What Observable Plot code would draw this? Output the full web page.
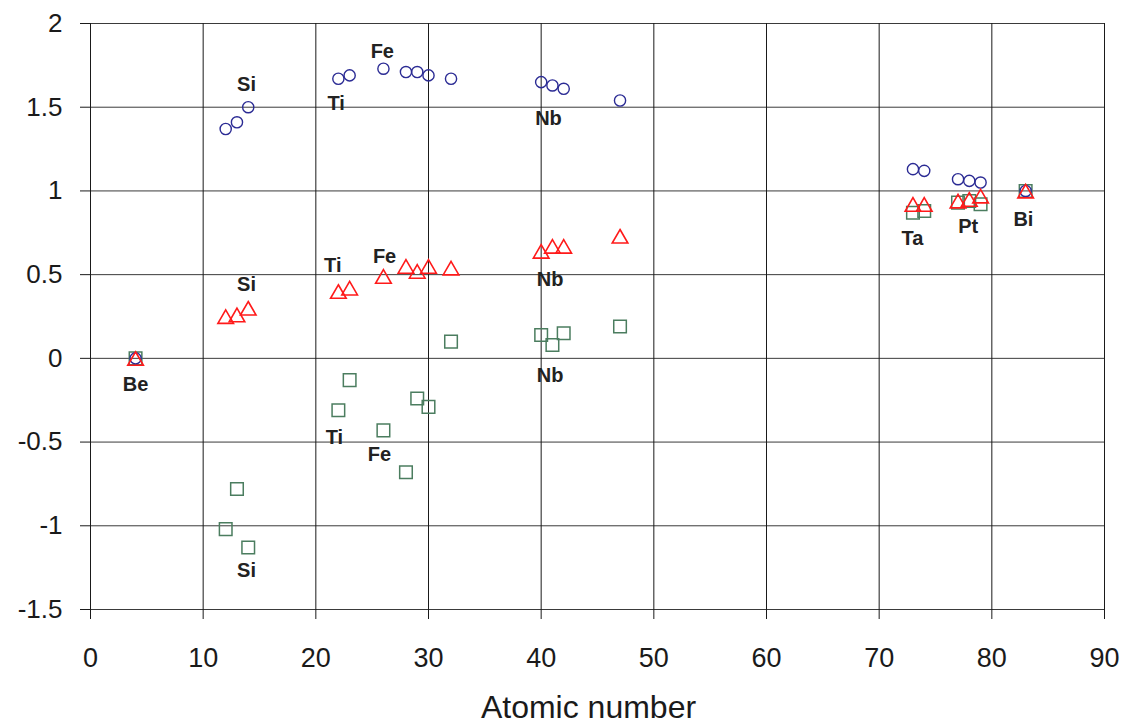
<!DOCTYPE html>
<html><head><meta charset="utf-8">
<script src="https://cdn.jsdelivr.net/npm/d3@7"></script>
<script src="https://cdn.jsdelivr.net/npm/@observablehq/plot@0.6"></script>
<style>body{margin:0;background:#fff}</style>
</head><body><div id="chart"></div>
<script>
// Atomic numbers of the elements measured
const atomicNumbers = [4, 12, 13, 14, 22, 23, 26, 28, 29, 30, 32, 40, 41, 42, 47, 73, 74, 77, 78, 79, 83];
// Series values (circles / triangles / squares)
const circleValues   = [0, 1.37, 1.41, 1.50, 1.67, 1.69, 1.73, 1.71, 1.71, 1.69, 1.67, 1.65, 1.63, 1.61, 1.54, 1.13, 1.12, 1.07, 1.06, 1.05, 1.00];
const triangleValues = [0, 0.25, 0.26, 0.30, 0.40, 0.42, 0.49, 0.55, 0.52, 0.55, 0.54, 0.64, 0.67, 0.67, 0.73, 0.92, 0.92, 0.94, 0.95, 0.97, 1.00];
const squareValues   = [0, -1.02, -0.78, -1.13, -0.31, -0.13, -0.43, -0.68, -0.24, -0.29, 0.10, 0.14, 0.08, 0.15, 0.19, 0.87, 0.88, 0.93, 0.94, 0.92, 1.00];

// Element annotations (text, atomic-number position, value position)
const labelTexts = ["Si", "Ti", "Fe", "Nb", "Si", "Ti", "Fe", "Nb", "Be", "Ti", "Fe", "Si", "Nb", "Ta", "Pt", "Bi"];
const labelX     = [13.85, 21.8, 25.9, 40.65, 13.85, 21.5, 26.1, 40.8, 4.0, 21.65, 25.65, 13.85, 40.8, 72.95, 77.9, 82.8];
const labelY     = [1.637, 1.523, 1.834, 1.434, 0.442, 0.556, 0.609, 0.472, -0.155, -0.472, -0.573, -1.266, -0.10, 0.717, 0.789, 0.830];

// Tick labels
const xTicks = [0, 10, 20, 30, 40, 50, 60, 70, 80, 90];
const yTicks = [-1.5, -1, -0.5, 0, 0.5, 1, 1.5, 2];
const xLabel = "Atomic number";

const circles = atomicNumbers.map((z, i) => ({z, v: circleValues[i]}));
const triangles = atomicNumbers.map((z, i) => ({z, v: triangleValues[i]}));
const squares = atomicNumbers.map((z, i) => ({z, v: squareValues[i]}));
const labels = labelTexts.map((t, i) => ({t, x: labelX[i], y: labelY[i]}));

const chart = Plot.plot({
  width: 1131,
  height: 725,
  marginLeft: 90,
  marginRight: 27,
  marginTop: 23,
  marginBottom: 116,
  style: {fontFamily: "'Liberation Sans', Arial, sans-serif", background: "#fff", color: "#1a1a1a"},
  x: {domain: [0, 90]},
  y: {domain: [-1.5, 2]},
  marks: [
    Plot.ruleY(yTicks, {stroke: "#3a3a3a", strokeWidth: 1}),
    Plot.ruleX(xTicks, {stroke: "#1a1a1a", strokeWidth: 1}),
    Plot.axisX(xTicks, {tickSize: 10, tickPadding: 28, fontSize: 27, tickFormat: d => String(d), label: null, stroke: "#1a1a1a"}),
    Plot.axisY(yTicks, {tickSize: 10, tickPadding: 18, fontSize: 26, tickFormat: d => String(d), label: null, stroke: "#1a1a1a"}),
    Plot.dot(squares, {x: "z", y: "v", symbol: "square", r: 7.1, stroke: "#4b7d5f", strokeWidth: 1.5, fill: "none"}),
    Plot.dot(circles, {x: "z", y: "v", symbol: "circle", r: 5.6, stroke: "#2b2b94", strokeWidth: 1.4, fill: "none"}),
    Plot.dot(triangles, {x: "z", y: "v", symbol: "triangle", r: 5.8, dy: 2.4, stroke: "#ff1a1a", strokeWidth: 1.6, fill: "none"}),
    Plot.text(labels, {x: "x", y: "y", text: "t", fontSize: 20, fontWeight: "bold", fill: "#222"}),
    Plot.text([xLabel], {text: d => d, frameAnchor: "bottom", dy: 108, dx: -9, fontSize: 32, fill: "#1a1a1a"})
  ]
});
document.getElementById("chart").appendChild(chart);
</script>
</body></html>
